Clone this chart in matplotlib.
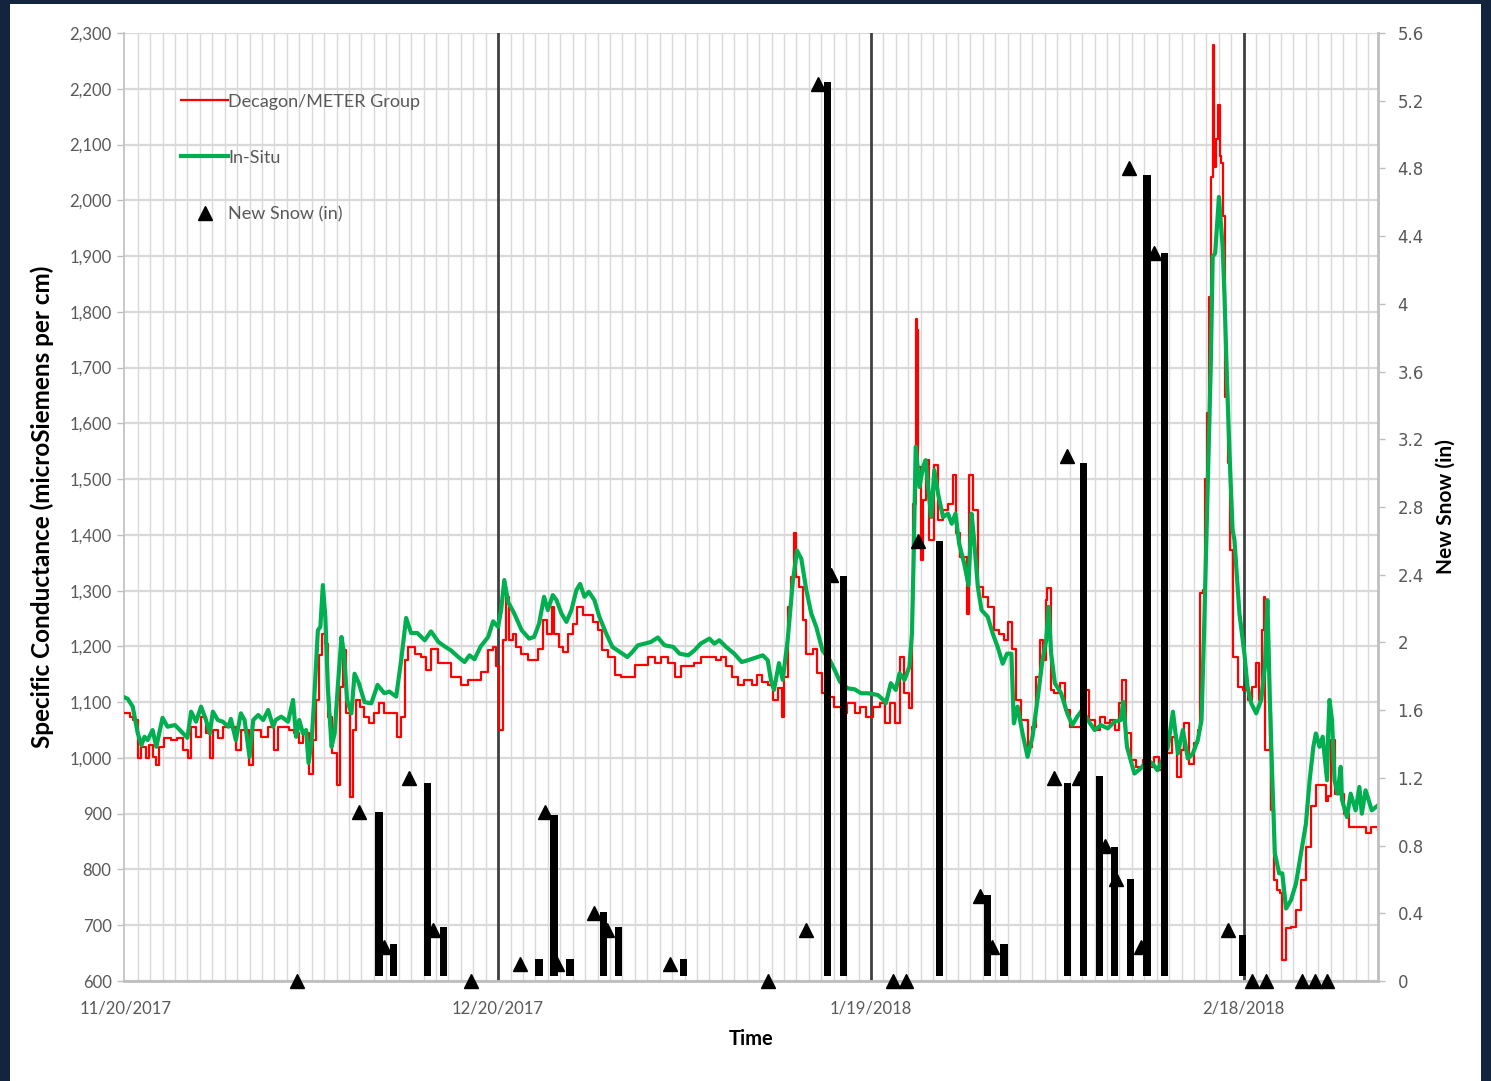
"""
Specific conductance of snowmelt (Decagon/METER vs In-Situ sensors)
with daily new snow on a secondary axis, Nov 2017 - Feb 2018.
"""

import matplotlib

matplotlib.use("Agg")
import matplotlib.dates as mdates
import matplotlib.pyplot as plt
import numpy as np
from matplotlib.lines import Line2D
from matplotlib.patches import Rectangle
from matplotlib.ticker import FixedLocator, FuncFormatter, MultipleLocator

START = "2017-11-20"

# days since 11/20/2017 -> specific conductance (microSiemens per cm)
insitu_day = [
    0.0, 0.2, 0.6, 1.0, 1.3, 1.55, 1.8, 2.2, 2.5, 3.0, 3.4, 4.0, 4.4, 5.0, 5.3, 5.7,
    6.1, 6.5, 6.8, 7.05, 7.45, 7.85, 8.3, 8.5, 8.9, 9.3, 9.6, 10.0, 10.3, 10.7, 11.1,
    11.5, 11.9, 12.1, 12.55, 13.1, 13.5, 13.75, 14.0, 14.3, 14.55, 14.75, 15.0, 15.2,
    15.5, 15.7, 15.9, 16.1, 16.3, 16.6, 16.85, 17.1, 17.4, 17.6, 17.85, 18.2, 18.45,
    18.8, 19.25, 19.8, 20.3, 20.85, 21.25, 21.8, 22.2, 22.6, 23.0, 23.5, 24.1, 24.6,
    25.2, 25.7, 26.2, 26.8, 27.3, 27.7, 28.1, 28.6, 29.2, 29.6, 30.0, 30.25, 30.5,
    30.8, 31.3, 31.9, 32.5, 32.9, 33.3, 33.7, 34.0, 34.4, 34.7, 35.1, 35.5, 35.9,
    36.3, 36.6, 36.95, 37.3, 37.75, 38.15, 38.7, 39.2, 39.8, 40.4, 40.8, 41.25, 41.8,
    42.3, 42.85, 43.4, 44.1, 44.6, 45.3, 45.8, 46.3, 47.0, 47.4, 47.8, 48.35, 49.0,
    49.6, 50.2, 50.9, 51.3, 51.7, 51.95, 52.2, 52.6, 52.9, 53.3, 53.7, 54.05, 54.4,
    54.8, 55.2, 55.6, 56.1, 56.7, 57.1, 57.5, 58.1, 58.7, 59.2, 59.75, 60.55, 61.0,
    61.2, 61.6, 62.0, 62.3, 62.7, 63.1, 63.3, 63.45, 63.6, 63.9, 64.2, 64.4, 64.6,
    64.85, 65.1, 65.4, 65.8, 66.2, 66.5, 66.8, 67.1, 67.5, 67.85, 68.1, 68.3, 68.6,
    68.9, 69.4, 69.8, 70.2, 70.6, 70.95, 71.3, 71.5, 71.8, 72.2, 72.6, 73.0, 73.4,
    73.8, 74.1, 74.3, 74.5, 74.8, 75.3, 75.8, 76.2, 76.6, 77.0, 77.45, 78.0, 78.5,
    79.05, 79.6, 80.1, 80.3, 80.6, 81.2, 81.7, 82.25, 82.65, 83.05, 83.45, 83.9, 84.3,
    84.7, 85.1, 85.5, 85.9, 86.3, 86.6, 86.8, 87.15, 87.35, 87.5, 87.7, 88.0, 88.3,
    88.45, 88.65, 88.85, 89.1, 89.25, 89.65, 90.05, 90.3, 90.6, 91.0, 91.4, 91.7,
    91.9, 92.1, 92.3, 92.5, 92.85, 93.1, 93.4, 93.8, 94.2, 94.6, 95.0, 95.3, 95.6,
    95.8, 96.1, 96.35, 96.7, 96.8, 96.9, 97.1, 97.3, 97.55, 97.8, 97.9, 98.3, 98.6,
    99.0, 99.3, 99.5, 99.8, 100.3, 100.8,
]
insitu_sc = [
    1108, 1106, 1092, 1045, 1023, 1038, 1032, 1050, 1020, 1072, 1056, 1059, 1050, 1036, 1083, 1065,
    1092, 1068, 1044, 1083, 1068, 1065, 1056, 1070, 1032, 1080, 1068, 1002, 1068, 1077, 1068,
    1086, 1056, 1068, 1074, 1065, 1104, 1038, 1068, 1044, 1050, 991, 1032, 1104,
    1229, 1235, 1310, 1253, 1127, 1020, 1044, 1127, 1217, 1188, 1104, 1080, 1151,
    1134, 1100, 1098, 1131, 1116, 1119, 1110, 1175, 1251, 1224, 1224, 1211, 1227,
    1208, 1200, 1193, 1181, 1172, 1184, 1177, 1200, 1217, 1245, 1235, 1266, 1319,
    1280, 1259, 1229, 1214, 1217, 1241, 1289, 1265, 1292, 1283, 1259, 1244, 1265,
    1301, 1312, 1289, 1298, 1283, 1253, 1223, 1199, 1190, 1181, 1190, 1202, 1205,
    1208, 1216, 1202, 1199, 1187, 1184, 1193, 1205, 1214, 1205, 1211, 1199, 1187,
    1172, 1176, 1181, 1184, 1175, 1140, 1122, 1170, 1140, 1211, 1313, 1372, 1357,
    1301, 1259, 1235, 1193, 1175, 1157, 1137, 1125, 1123, 1116, 1116, 1113, 1104,
    1098, 1134, 1122, 1152, 1140, 1164, 1223, 1372, 1558, 1486, 1522, 1534, 1486,
    1432, 1516, 1474, 1432, 1438, 1420, 1438, 1384, 1349, 1310, 1438, 1391, 1307,
    1265, 1253, 1223, 1199, 1169, 1187, 1187, 1062, 1092, 1044, 1002, 1038, 1104,
    1175, 1211, 1271, 1187, 1134, 1116, 1080, 1059, 1074, 1086, 1068, 1050, 1059,
    1053, 1065, 1068, 1101, 1020, 972, 981, 996, 990, 978, 996, 1020, 1083,
    1008, 1050, 999, 1008, 1032, 1068, 1223, 1529, 1708, 1899, 1905, 2006, 1917,
    1827, 1678, 1547, 1409, 1391, 1259, 1187, 1128, 1098, 1080, 1104, 1164,
    1283, 1104, 960, 829, 793, 793, 730, 745, 775, 829, 882, 960, 1020,
    1044, 1020, 1038, 960, 1050, 1104, 1068, 960, 936, 984, 925, 894, 936,
    906, 948, 900, 942, 906, 915,
]

decagon_day = [
    0.0, 0.35, 0.6, 1.0, 1.3, 1.7, 1.95, 2.2, 2.5, 2.75, 3.15, 3.7, 4.2, 4.65, 5.05,
    5.3, 5.7, 6.1, 6.5, 6.8, 7.05, 7.45, 7.85, 8.4, 8.9, 9.3, 9.95, 10.3, 10.9, 11.5,
    11.95, 12.3, 12.8, 13.2, 13.6, 14.0, 14.3, 14.75, 15.1, 15.35, 15.6, 15.85, 16.1,
    16.35, 16.6, 17.0, 17.25, 17.5, 17.8, 18.05, 18.3, 18.6, 18.85, 19.25, 19.65,
    20.05, 20.45, 20.85, 21.5, 21.9, 22.2, 22.5, 22.75, 23.3, 23.8, 24.2, 24.6, 25.15,
    25.7, 26.2, 27.0, 27.6, 28.1, 28.6, 29.2, 29.6, 29.85, 30.1, 30.4, 30.65, 30.9,
    31.2, 31.45, 31.85, 32.4, 32.8, 33.2, 33.6, 33.9, 34.3, 34.5, 34.9, 35.2, 35.6,
    36.0, 36.35, 36.8, 37.2, 37.6, 38.0, 38.4, 38.85, 39.4, 39.9, 40.45, 41.0, 41.5,
    42.05, 42.6, 43.1, 43.65, 44.2, 44.7, 45.3, 45.8, 46.3, 47.0, 47.5, 47.95, 48.35,
    48.8, 49.3, 49.8, 50.4, 50.8, 51.2, 51.7, 52.1, 52.5, 52.85, 53.0, 53.35, 53.6,
    53.85, 54.0, 54.25, 54.5, 54.8, 55.3, 55.7, 56.1, 56.65, 57.05, 57.6, 58.1, 58.7,
    59.1, 59.6, 60.15, 60.7, 61.1, 61.5, 61.9, 62.3, 62.7, 63.1, 63.3, 63.4, 63.6,
    63.7, 63.8, 64.0, 64.2, 64.45, 64.7, 65.05, 65.4, 65.8, 66.2, 66.6, 66.85, 67.2,
    67.7, 67.9, 68.2, 68.6, 69.0, 69.4, 69.9, 70.3, 70.7, 71.0, 71.35, 71.7, 72.1,
    72.6, 73.0, 73.3, 73.6, 73.85, 74.1, 74.2, 74.5, 74.75, 75.2, 75.6, 76.0, 76.4,
    76.9, 77.3, 77.55, 78.0, 78.4, 78.8, 79.2, 79.6, 80.0, 80.2, 80.5, 80.9, 81.3,
    81.9, 82.3, 82.8, 83.2, 83.6, 84.2, 84.6, 84.95, 85.2, 85.6, 86.0, 86.3, 86.5,
    86.7, 86.85, 87.05, 87.2, 87.4, 87.5, 87.6, 87.75, 87.9, 88.05, 88.2, 88.3, 88.45,
    88.7, 88.9, 89.1, 89.5, 89.9, 90.3, 90.7, 90.95, 91.2, 91.45, 91.6, 91.7, 92.1,
    92.2, 92.45, 92.7, 92.9, 93.1, 93.4, 93.8, 94.2, 94.6, 95.0, 95.4, 95.8, 96.35,
    96.6, 96.8, 97.0, 97.3, 98.1, 98.5, 99.0, 99.5, 99.8, 100.2, 100.8,
]
decagon_sc = [
    1080, 1074, 1068, 999, 1020, 999, 1023, 1002, 987, 1020, 1035, 1032, 1035, 1014, 999,
    1056, 1038, 1074, 1044, 999, 1050, 1035, 1056, 1056, 1014, 1050, 987, 1050, 1038, 1056,
    1014, 1056, 1056, 1050, 1044, 1026, 1044, 972, 1032, 1104, 1184, 1223, 1205,
    1074, 1008, 952, 1128, 1193, 1080, 930, 1050, 1104, 1092, 1074, 1062,
    1080, 1098, 1080, 1080, 1038, 1074, 1175, 1199, 1187, 1181, 1157, 1196, 1170,
    1170, 1146, 1131, 1140, 1140, 1155, 1193, 1199, 1164, 1050, 1211, 1289, 1211,
    1223, 1199, 1187, 1175, 1175, 1196, 1247, 1223, 1271, 1223, 1199, 1190, 1223,
    1241, 1271, 1256, 1256, 1244, 1229, 1193, 1181, 1148, 1146, 1146, 1166, 1166,
    1181, 1170, 1181, 1170, 1146, 1164, 1164, 1170, 1181, 1181, 1175, 1181, 1164,
    1146, 1131, 1140, 1131, 1148, 1137, 1131, 1104, 1125, 1074, 1146, 1271, 1325,
    1403, 1325, 1307, 1247, 1187, 1196, 1152, 1116, 1110, 1092, 1080, 1098, 1080,
    1092, 1074, 1092, 1098, 1062, 1098, 1062, 1181, 1116, 1089, 1271, 1456, 1788,
    1767, 1522, 1355, 1462, 1534, 1391, 1525, 1426, 1444, 1456, 1507, 1403, 1361,
    1259, 1507, 1444, 1307, 1289, 1271, 1229, 1223, 1211, 1244, 1196, 1104, 1068,
    1020, 1056, 1146, 1211, 1175, 1283, 1304, 1122, 1116, 1134, 1086, 1056, 1056,
    1068, 1122, 1068, 1050, 1074, 1062, 1068, 1050, 1098, 1140, 1044, 996, 984,
    996, 984, 1002, 978, 1008, 1038, 966, 1014, 1062, 990, 1026, 1050, 1295,
    1301, 1500, 1619, 1827, 2042, 2278, 2060, 2110, 2171, 2080, 2067, 1971, 1648,
    1529, 1373, 1181, 1128, 1122, 1104, 1128, 1170, 1104, 1229, 1289, 1014, 1080,
    906, 781, 763, 757, 638, 695, 697, 727, 781, 841, 913, 951, 951,
    922, 931, 1032, 936, 900, 876, 876, 876, 865, 876, 870,
]

# new snow (in): triangles, and the bar series drawn next to them
snow_day = [
    13.8, 18.8, 20.8, 22.8, 24.8, 27.8, 31.8, 33.8, 34.75, 37.7, 38.8, 43.8, 51.7, 54.8,
    55.75, 56.8, 61.8, 62.8, 63.8, 68.8, 69.75, 74.7, 75.8, 76.75, 78.8, 79.7, 80.75,
    81.7, 82.8, 88.7, 90.7, 91.8, 94.7, 95.7, 96.7,
]
snow_in = [
    0, 1.0, 0.2, 1.2, 0.3, 0, 0.1, 1.0, 0.1, 0.4, 0.3, 0.1, 0, 0.3,
    5.3, 2.4, 0, 0, 2.6, 0.5, 0.2, 1.2, 3.1, 1.2, 0.8, 0.6, 4.8,
    0.2, 4.3, 0.3, 0, 0, 0, 0, 0,
]
snow_bar_day = [
    20.4, 21.6, 24.3, 25.6, 33.3, 34.5, 35.8, 38.5, 39.7, 44.9, 56.5, 57.8, 65.5, 69.4,
    70.7, 75.8, 77.1, 78.4, 79.6, 80.9, 82.2, 83.6, 89.9,
]
snow_bar_in = [
    1.0, 0.22, 1.17, 0.32, 0.13, 0.98, 0.13, 0.41, 0.32, 0.13, 5.31, 2.39, 2.6, 0.51,
    0.22, 1.17, 3.06, 1.21, 0.79, 0.6, 4.76, 4.3, 0.27,
]

date_ticks = [0, 30, 60, 90]

GRAY_TXT = "#595959"
GRID = "#d9d9d9"
AXIS = "#bfbfbf"


def fmt_date(value, _pos):
    d = mdates.num2date(value)
    return f"{d.month}/{d.day}/{d.year}"


def main():
    plt.rcParams["font.family"] = ["Lato", "DejaVu Sans"]

    fig = plt.figure(figsize=(14.91, 10.81), dpi=100, facecolor="#13243e")
    fig.patches.append(
        Rectangle((10 / 1491, 0), 1471 / 1491, 1077 / 1081,
                  transform=fig.transFigure, facecolor="white", edgecolor="none", zorder=-5)
    )

    ax = fig.add_axes([124 / 1491, 1 - 981 / 1081, 1254 / 1491, 948 / 1081])
    ax2 = ax.twinx()

    t0 = mdates.datestr2num(START)
    xi = t0 + np.array(insitu_day)
    xd = t0 + np.array(decagon_day)
    xs = t0 + np.array(snow_day)
    xb = t0 + np.array(snow_bar_day)

    # Decagon logger readings are quantised, so draw them stepped
    ax.plot(xd, decagon_sc, color="#ff0000", lw=1.6, drawstyle="steps-post", zorder=3)
    ax.plot(xi, insitu_sc, color="#00b050", lw=3.0, zorder=4)
    for d in date_ticks[1:]:
        ax.axvline(t0 + d, color="#404040", lw=2, zorder=2)

    ax.set_xlim(t0 - 0.1, t0 + 100.8)
    ax.set_ylim(600, 2300)
    ax.yaxis.set_major_locator(MultipleLocator(100))
    ax.yaxis.set_major_formatter(FuncFormatter(lambda v, _p: f"{v:,.0f}"))
    ax.xaxis.set_major_locator(FixedLocator([t0 + d for d in date_ticks]))
    ax.xaxis.set_minor_locator(MultipleLocator(1))
    ax.xaxis.set_major_formatter(FuncFormatter(fmt_date))

    ax.set_axisbelow(True)
    ax.grid(axis="y", which="major", color=GRID, lw=1.6)
    ax.grid(axis="x", which="minor", color=GRID, lw=1.0)

    ax.tick_params(axis="x", which="both", length=0, pad=14, labelsize=12, labelcolor=GRAY_TXT)
    ax.tick_params(axis="y", length=5, width=1, color=AXIS, pad=4, labelsize=12, labelcolor=GRAY_TXT)
    for side in ["top", "right"]:
        ax.spines[side].set_visible(False)
    ax.spines["left"].set_color(AXIS)
    ax.spines["left"].set_linewidth(1.2)
    ax.spines["bottom"].set_color(AXIS)
    ax.spines["bottom"].set_linewidth(2)

    # secondary axis: new snow
    heights = np.array(snow_bar_in) - 0.03
    ax2.bar(xb, heights, width=0.6, bottom=0.03, color="black", zorder=3)
    ax2.plot(xs, snow_in, ls="none", marker="^", ms=10, color="black", clip_on=False, zorder=4)
    ax2.set_ylim(0, 5.6)
    snow_ticks = np.arange(0, 5.61, 0.4)
    ax2.set_yticks(snow_ticks)
    ax2.set_yticklabels([f"{v:g}" for v in np.round(snow_ticks, 1)], fontfamily="DejaVu Sans")
    ax2.tick_params(axis="y", length=5, width=1, color=AXIS, pad=9, labelsize=12, labelcolor=GRAY_TXT)
    for side in ["top", "left", "bottom"]:
        ax2.spines[side].set_visible(False)
    ax2.spines["right"].set_color(AXIS)
    ax2.spines["right"].set_linewidth(2)

    handles = [
        Line2D([], [], color="#ff0000", lw=1.6),
        Line2D([], [], color="#00b050", lw=3.0),
        Line2D([], [], ls="none", marker="^", ms=10, color="black"),
    ]
    labels = ["Decagon/METER Group", "In-Situ", "New Snow (in)"]
    leg = ax2.legend(handles, labels, loc="upper left", bbox_to_anchor=(0.0455, 0.936),
                     frameon=False, fontsize=13, handlelength=2.6, handletextpad=0.0,
                     labelspacing=2.22, borderpad=0, borderaxespad=0)
    for txt in leg.get_texts():
        txt.set_color(GRAY_TXT)

    fig.text(42 / 1491, 1 - 507 / 1081, "Specific Conductance (microSiemens per cm)",
             rotation=90, ha="center", va="center", fontsize=17.5, fontweight="bold")
    fig.text(1446 / 1491, 1 - 507 / 1081, "New Snow (in)",
             rotation=90, ha="center", va="center", fontsize=15, fontweight="bold")
    fig.text(751 / 1491, 1 - 1039 / 1081, "Time",
             ha="center", va="center", fontsize=14.5, fontweight="bold")

    fig.savefig("out.png", dpi=100, facecolor=fig.get_facecolor())
    plt.close(fig)


if __name__ == "__main__":
    main()
